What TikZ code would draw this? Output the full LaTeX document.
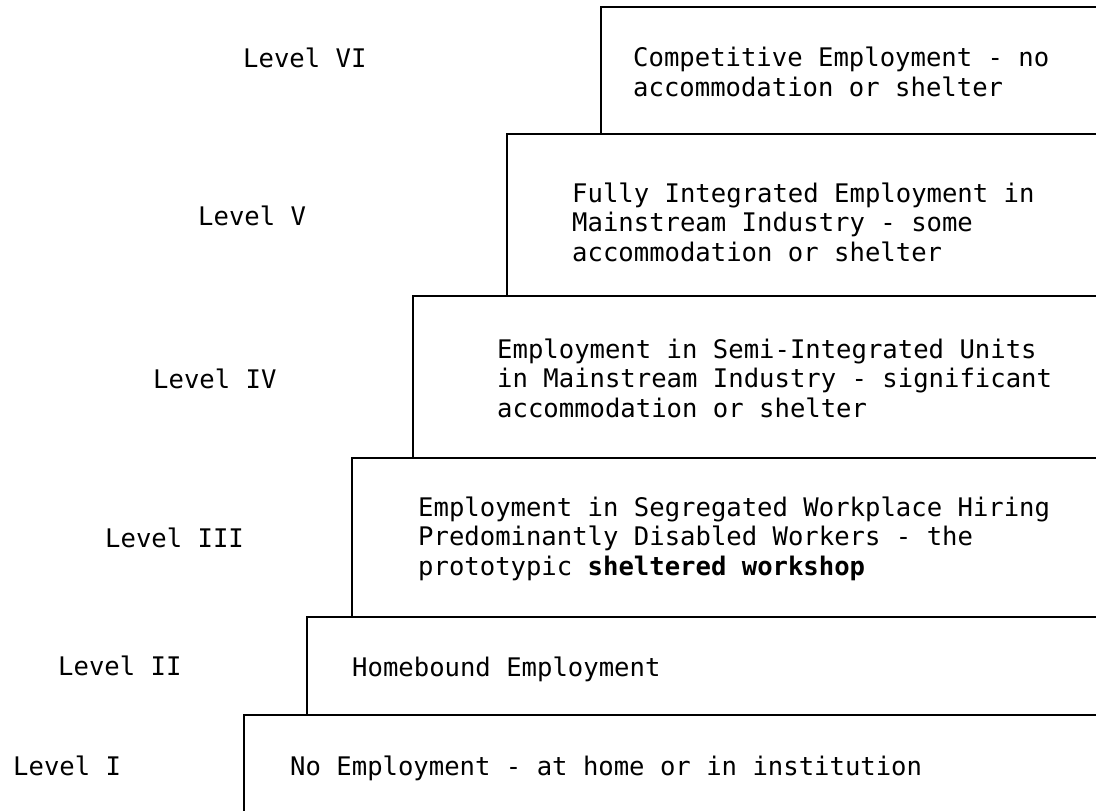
\documentclass[tikz,border=0pt]{standalone}
\usepackage{fontspec}
\newfontfamily\typew{DejaVu Sans Mono}
\begin{document}
\begin{tikzpicture}[x=1pt,y=-1pt,
  boxline/.style={line width=2.8pt, line join=miter},
  boxtext/.style={font=\typew\fontsize{25.6}{29.5}\selectfont, anchor=base west, inner sep=0pt, align=left},
  lvl/.style={font=\typew\fontsize{25.6}{29.5}\selectfont, anchor=base west, inner sep=0pt}]
\useasboundingbox (0,0) rectangle (1096,811);
\clip (0,0) rectangle (1096,811);
% steps
\draw[boxline] (601,7) rectangle (1110,134);
\draw[boxline] (507,134) rectangle (1110,296);
\draw[boxline] (413,296) rectangle (1110,458);
\draw[boxline] (352,458) rectangle (1110,617);
\draw[boxline] (307,617) rectangle (1110,715);
\draw[boxline] (244,715) rectangle (1110,830);
% box texts (anchored at the baseline of the last line)
\node[boxtext] (t6) at (633,96) {Competitive Employment - no\\accommodation or shelter};
\node[boxtext] (t5) at (572,261) {Fully Integrated Employment in\\Mainstream Industry - some\\accommodation or shelter};
\node[boxtext] (t4) at (497,417) {Employment in Semi-Integrated Units\\in Mainstream Industry - significant\\accommodation or shelter};
\node[boxtext] (t3) at (418,575) {Employment in Segregated Workplace Hiring\\Predominantly Disabled Workers - the\\prototypic \textbf{sheltered workshop}};
\node[boxtext] (t2) at (352,676) {Homebound Employment};
\node[boxtext] (t1) at (290,775) {No Employment - at home or in institution};
% level labels
\node[lvl] (l6) at (243,67) {Level VI};
\node[lvl] (l5) at (198,225) {Level V};
\node[lvl] (l4) at (153,388) {Level IV};
\node[lvl] (l3) at (105,547) {Level III};
\node[lvl] (l2) at (58,675) {Level II};
\node[lvl] (l1) at (13,775) {Level I};
\end{tikzpicture}
\end{document}
